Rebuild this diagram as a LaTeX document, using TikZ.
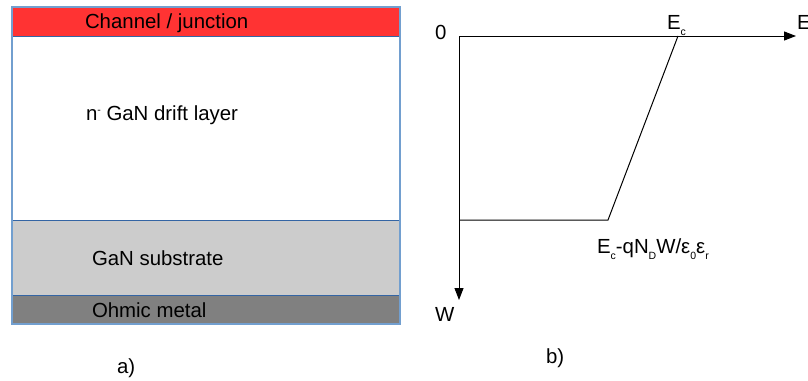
\documentclass[tikz,border=0pt]{standalone}
\usepackage{fontspec}
\setmainfont{Liberation Sans}
\usetikzlibrary{arrows.meta}
\definecolor{chanred}{HTML}{FF3333}
\definecolor{subgray}{HTML}{CCCCCC}
\definecolor{metalgray}{HTML}{808080}
\definecolor{edgeblue}{HTML}{729FCF}
\definecolor{lineblue}{HTML}{3465A4}
\newcommand{\lsub}[1]{\raisebox{-6.5pt}{\fontsize{10.5}{10.5}\selectfont #1}}
\newcommand{\lsup}[1]{\raisebox{6.5pt}{\fontsize{10.5}{10.5}\selectfont #1}}
\tikzset{
  txt/.style={anchor=base west, inner sep=0pt, outer sep=0pt, font=\fontsize{20.4}{24}\selectfont},
  axis/.style={draw=black, line width=1pt, -{Triangle[length=12pt,width=9pt]}},
  curve/.style={draw=black, line width=1pt},
  layerline/.style={draw=lineblue, line width=1pt},
}
\begin{document}
\begin{tikzpicture}[x=1pt,y=-1pt]
\useasboundingbox (0,0) rectangle (808,380);
% layers
\fill[chanred] (12,7) rectangle (400,36);
\fill[white] (12,36) rectangle (400,220);
\fill[subgray] (12,220) rectangle (400,295);
\fill[metalgray] (12,295) rectangle (400,324);
\draw[layerline] (12,36) -- (400,36);
\draw[layerline] (12,220) -- (400,220);
\draw[layerline] (12,295) -- (400,295);
\draw[draw=edgeblue, line width=1.5pt] (12,7) rectangle (400,324);
% layer labels
\node[txt] (chan) at (85,28.5) {Channel / junction};
\node[txt] (drift) at (86,120) {n\lsup{-} GaN drift layer};
\node[txt] (subs) at (92,265) {GaN substrate};
\node[txt] (ohm) at (92,317) {Ohmic metal};
\node[txt] (la) at (117,373) {a)};
% axes
\coordinate (O) at (459,36);
\coordinate (Eend) at (796,36);
\coordinate (Wend) at (459,300);
\coordinate (P1) at (459,220);
\coordinate (P2) at (608,220);
\coordinate (P3) at (678,36);
\draw[axis] (O) -- (Eend);
\draw[axis] (O) -- (Wend);
\draw[curve] (P1) -- (P2) -- (P3);
\node[txt] (zero) at (435,39) {0};
\node[txt] (Ec) at (667,29) {E\lsub{c}};
\node[txt] (E) at (797,29) {E};
\node[txt] (W) at (435,321) {W};
\node[txt] (formula) at (597,253) {E\lsub{c}-qN\lsub{D}W/ε\lsub{0}ε\lsub{r}};
\node[txt] (lb) at (546,363) {b)};
\end{tikzpicture}
\end{document}
